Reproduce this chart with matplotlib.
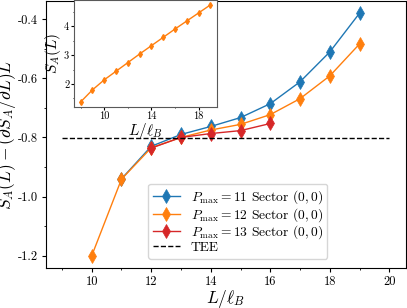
# -*- coding: utf-8 -*-

import numpy as np
import matplotlib as mpl
mpl.use('Agg')
import matplotlib.pyplot as plt
from matplotlib.ticker import MultipleLocator

#------------------ FONT_setup ----------------------
plt.rcParams['font.family'] = 'serif'
plt.rcParams['font.serif'] = ['cmr10']
plt.rcParams['mathtext.fontset'] = 'cm'
plt.rcParams['axes.unicode_minus'] = False

#------------------ Data ----------------------
L_11 = [11, 12, 13, 14, 15, 16, 17, 18, 19]
tee_11 = [-0.940, -0.830, -0.790, -0.763, -0.733, -0.686, -0.612, -0.511, -0.380]

L_12 = [10, 11, 12, 13, 14, 15, 16, 17, 18, 19]
tee_12 = [-1.200, -0.941, -0.835, -0.800, -0.775, -0.756, -0.723, -0.669, -0.592, -0.484]

L_13 = [12, 13, 14, 15, 16]
tee_13 = [-0.836, -0.800, -0.787, -0.777, -0.753]

tee_ref = -0.803
tee_span = (9, 20)

L_inset = [8, 9, 10, 11, 12, 13, 14, 15, 16, 17, 18, 19]
S_inset = [1.37, 1.79, 2.14, 2.44, 2.74, 3.04, 3.33, 3.62, 3.91, 4.19, 4.47, 4.75]
inset_xticks = [10, 14, 18]

#------------------ Figure Setup ----------------------
fig = plt.figure(figsize=(4.07, 3.08), dpi=100)
ax = fig.add_axes([0.112, 0.13, 0.885, 0.867])

ax.plot(L_11, tee_11, marker='d', ms=7, mew=0.5, lw=1, color='tab:blue', label=r'$P_{\max} = 11$ Sector $(0,0)$')
ax.plot(L_12, tee_12, marker='d', ms=7, mew=0.5, lw=1, color='tab:orange', label=r'$P_{\max} = 12$ Sector $(0,0)$')
ax.plot(L_13, tee_13, marker='d', ms=7, mew=0.5, lw=1, color='tab:red', label=r'$P_{\max} = 13$ Sector $(0,0)$')
ax.hlines(tee_ref, tee_span[0], tee_span[1], colors='black', linestyles='--', lw=1, label='TEE')

ax.set_xlabel(r'$L/\ell_B$', fontsize=12.5, labelpad=0)
ax.set_ylabel(r'$S_A(L) - (\partial S_A/\partial L) L$', fontsize=12.5, labelpad=0)
ax.xaxis.set_major_locator(MultipleLocator(2))
ax.xaxis.set_minor_locator(MultipleLocator(1))
ax.yaxis.set_major_locator(MultipleLocator(0.2))
ax.yaxis.set_minor_locator(MultipleLocator(0.1))
ax.yaxis.set_major_formatter(mpl.ticker.FormatStrFormatter('%.1f'))
ax.tick_params(labelsize=9, length=3, pad=2.5)
ax.tick_params(which='minor', length=1.5)

ax.legend(loc='lower left', bbox_to_anchor=(0.285, 0.035), borderaxespad=0,
          fontsize=9.7, labelspacing=0.0, borderpad=0.35, handlelength=2.0, framealpha=0.8)

#------------------ Inset ----------------------
axin = fig.add_axes([0.182, 0.653, 0.351, 0.347])
axin.plot(L_inset, S_inset, marker='d', ms=3, lw=1, color='tab:orange')
axin.set_xlabel(r'$L/\ell_B$', fontsize=11, labelpad=0)
axin.set_ylabel(r'$S_A(L)$', fontsize=11, labelpad=1)
axin.set_xticks(inset_xticks)
axin.xaxis.set_minor_locator(MultipleLocator(2))
axin.yaxis.set_major_locator(MultipleLocator(1))
axin.yaxis.set_minor_locator(MultipleLocator(0.5))
axin.tick_params(labelsize=7.5, length=2, pad=1.5)
axin.tick_params(which='minor', length=1)
for s in axin.spines.values():
    s.set_color('0.35')

plt.savefig('out.png', dpi=100)
